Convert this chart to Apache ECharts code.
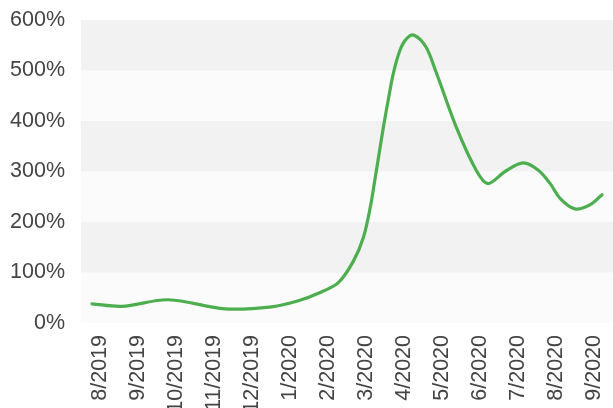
<!DOCTYPE html>
<html>
<head>
<meta charset="utf-8">
<script src="https://cdn.jsdelivr.net/npm/echarts@6/dist/echarts.min.js"></script>
<style>
  html, body { margin: 0; padding: 0; background: #ffffff; }
  #chart { width: 613px; height: 408px; }
</style>
</head>
<body>
<div id="chart"></div>
<script>
// Month labels along the bottom axis
const months = ['8/2019', '9/2019', '10/2019', '11/2019', '12/2019', '1/2020', '2/2020',
                '3/2020', '4/2020', '5/2020', '6/2020', '7/2020', '8/2020', '9/2020'];
// Position along the curve, in months since 8/2019
const curveMonth = [0.00, 0.76, 1.95, 3.39, 4.58, 5.26, 5.77, 6.28, 6.66, 6.92, 7.09, 7.21,
                    7.32, 7.43, 7.55, 7.68, 7.85, 8.02, 8.21, 8.51, 8.77, 9.28, 9.79,
                    10.09, 10.53, 10.99, 11.37, 11.68, 11.93, 12.31, 12.69, 13.00];
// Change at each of those positions, in percent
const curvePct = [38, 33, 46, 28, 32, 44, 59, 80, 122, 170, 228, 283,
                  336, 389, 441, 494, 540, 563, 570, 547, 497, 389, 303,
                  276, 300, 317, 303, 276, 247, 226, 234, 254];
// Value-axis tick range (percent)
const yMin = 0, yMax = 600, yStep = 100;

const font = 'Liberation Sans';
const textColor = '#444444';
const lineColor = '#4cae4f';

// Smooth path through the points: cubic Hermite segments with chord-length
// parameterisation, written out as Bezier commands.
function smoothPath(pts) {
  const n = pts.length;
  const t = [0];
  for (let i = 1; i < n; i++) {
    t.push(t[i - 1] + Math.hypot(pts[i][0] - pts[i - 1][0], pts[i][1] - pts[i - 1][1]));
  }
  const tan = pts.map((p, i) => {
    const a = pts[Math.max(i - 1, 0)], b = pts[Math.min(i + 1, n - 1)];
    const dt = t[Math.min(i + 1, n - 1)] - t[Math.max(i - 1, 0)];
    return [(b[0] - a[0]) / dt, (b[1] - a[1]) / dt];
  });
  let d = 'M' + pts[0][0] + ',' + pts[0][1];
  for (let i = 0; i < n - 1; i++) {
    const h = (t[i + 1] - t[i]) / 3;
    d += ' C' + (pts[i][0] + tan[i][0] * h) + ',' + (pts[i][1] + tan[i][1] * h) +
         ' ' + (pts[i + 1][0] - tan[i + 1][0] * h) + ',' + (pts[i + 1][1] - tan[i + 1][1] * h) +
         ' ' + pts[i + 1][0] + ',' + pts[i + 1][1];
  }
  return d;
}

const chart = echarts.init(document.getElementById('chart'), null, { renderer: 'canvas' });
chart.setOption({
  animation: false,
  backgroundColor: '#ffffff',
  grid: [
    { left: 81, right: 0, top: 20, bottom: 85, outerBoundsMode: 'none', containLabel: false },
    { left: 92, right: 11, top: 20, bottom: 85, outerBoundsMode: 'none', containLabel: false }
  ],
  xAxis: [
    {
      type: 'category', gridIndex: 0, data: months, boundaryGap: true,
      axisLine: { show: false }, axisTick: { show: false },
      axisLabel: { rotate: 90, margin: 12, fontFamily: font, fontSize: 21.5, color: textColor, interval: 0 }
    },
    {
      type: 'value', gridIndex: 1, min: 0, max: months.length - 1, show: false,
      splitLine: { show: false }
    }
  ],
  yAxis: [
    {
      type: 'value', gridIndex: 0, min: yMin, max: yMax, interval: yStep,
      axisLine: { show: false }, axisTick: { show: false },
      splitLine: { show: false },
      splitArea: { show: true, areaStyle: { color: ['#fbfbfb', '#f2f2f2'] } },
      axisLabel: { margin: 16, fontFamily: font, fontSize: 21.5, color: textColor, formatter: '{value}%' }
    },
    {
      type: 'value', gridIndex: 1, min: yMin, max: yMax, show: false,
      splitLine: { show: false }
    }
  ],
  series: [
    {
      type: 'custom', coordinateSystem: 'cartesian2d', xAxisIndex: 1, yAxisIndex: 1,
      data: [[curveMonth[0], curvePct[0]]],
      silent: true,
      renderItem: function (params, api) {
        const pts = curveMonth.map((m, i) => api.coord([m, curvePct[i]]));
        return {
          type: 'path',
          shape: { pathData: smoothPath(pts) },
          style: { fill: 'none', stroke: lineColor, lineWidth: 3.2, lineJoin: 'round', lineCap: 'round' }
        };
      }
    }
  ]
});
</script>
</body>
</html>
